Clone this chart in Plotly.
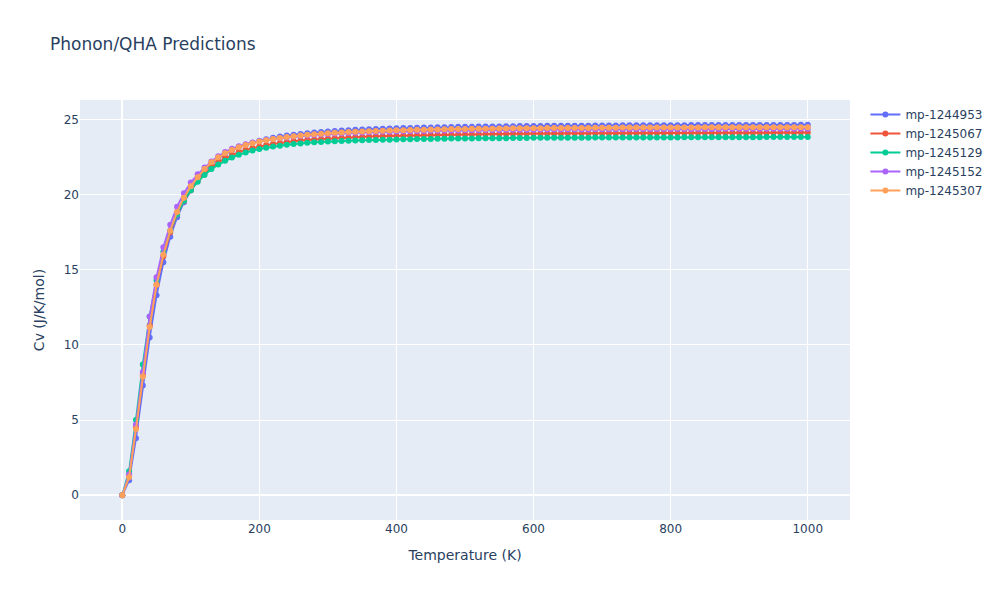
import plotly.graph_objects as go

temperature = list(range(0, 1001, 10))

names = ["mp-1244953", "mp-1245067", "mp-1245129", "mp-1245152", "mp-1245307"]

cv_1244953 = [
    0, 1.0, 3.8, 7.3, 10.5, 13.3, 15.5, 17.2, 18.5, 19.5,
    20.3, 21.02, 21.60, 22.06, 22.42, 22.70, 22.95, 23.15, 23.32, 23.46,
    23.59, 23.69, 23.78, 23.86, 23.93, 23.99, 24.04, 24.09, 24.13, 24.17,
    24.20, 24.23, 24.26, 24.29, 24.31, 24.33, 24.35, 24.37, 24.39, 24.40,
    24.42, 24.43, 24.44, 24.45, 24.46, 24.47, 24.48, 24.49, 24.50, 24.51,
    24.51, 24.52, 24.53, 24.53, 24.54, 24.54, 24.55, 24.55, 24.56, 24.56,
    24.57, 24.57, 24.58, 24.58, 24.58, 24.59, 24.59, 24.59, 24.59, 24.60,
    24.60, 24.60, 24.60, 24.61, 24.61, 24.61, 24.61, 24.62, 24.62, 24.62,
    24.62, 24.62, 24.62, 24.63, 24.63, 24.63, 24.63, 24.63, 24.63, 24.63,
    24.64, 24.64, 24.64, 24.64, 24.64, 24.64, 24.64, 24.64, 24.64, 24.65,
    24.65,
]

cv_1245067 = [
    0, 1.3, 4.5, 8.0, 11.3, 14.0, 15.9, 17.5, 18.7, 19.6,
    20.3, 20.9, 21.4, 21.8, 22.15, 22.42, 22.64, 22.83, 22.98, 23.1,
    23.2, 23.29, 23.37, 23.44, 23.5, 23.55, 23.6, 23.64, 23.67, 23.70,
    23.73, 23.75, 23.78, 23.80, 23.82, 23.84, 23.86, 23.88, 23.89, 23.91,
    23.92, 23.93, 23.94, 23.95, 23.96, 23.97, 23.98, 23.99, 24.00, 24.00,
    24.01, 24.02, 24.02, 24.03, 24.03, 24.04, 24.04, 24.05, 24.05, 24.06,
    24.06, 24.06, 24.07, 24.07, 24.07, 24.08, 24.08, 24.08, 24.08, 24.09,
    24.09, 24.09, 24.09, 24.10, 24.10, 24.10, 24.10, 24.10, 24.10, 24.11,
    24.11, 24.11, 24.11, 24.11, 24.11, 24.12, 24.12, 24.12, 24.12, 24.12,
    24.12, 24.12, 24.12, 24.12, 24.12, 24.13, 24.13, 24.13, 24.13, 24.13,
    24.13,
]

cv_1245129 = [
    0, 1.6, 5.0, 8.7, 11.9, 14.3, 16.2, 17.6, 18.7, 19.6,
    20.3, 20.85, 21.3, 21.7, 22.0, 22.25, 22.47, 22.65, 22.8, 22.93,
    23.03, 23.12, 23.2, 23.26, 23.32, 23.37, 23.41, 23.45, 23.48, 23.51,
    23.54, 23.55, 23.57, 23.58, 23.60, 23.62, 23.63, 23.64, 23.65, 23.66,
    23.67, 23.68, 23.69, 23.70, 23.70, 23.71, 23.72, 23.72, 23.73, 23.74,
    23.74, 23.74, 23.75, 23.75, 23.76, 23.76, 23.76, 23.77, 23.77, 23.77,
    23.78, 23.78, 23.78, 23.78, 23.79, 23.79, 23.79, 23.79, 23.79, 23.80,
    23.80, 23.80, 23.80, 23.80, 23.81, 23.81, 23.81, 23.81, 23.81, 23.81,
    23.81, 23.81, 23.82, 23.82, 23.82, 23.82, 23.82, 23.82, 23.82, 23.82,
    23.82, 23.82, 23.82, 23.82, 23.83, 23.83, 23.83, 23.83, 23.83, 23.83,
    23.83,
]

cv_1245152 = [
    0, 1.4, 4.7, 8.2, 11.9, 14.5, 16.5, 18.0, 19.2, 20.1,
    20.8, 21.35, 21.8, 22.2, 22.55, 22.83, 23.05, 23.22, 23.36, 23.47,
    23.56, 23.63, 23.70, 23.76, 23.81, 23.86, 23.90, 23.94, 23.97, 24.00,
    24.03, 24.06, 24.08, 24.10, 24.12, 24.13, 24.15, 24.16, 24.18, 24.19,
    24.20, 24.21, 24.22, 24.23, 24.24, 24.25, 24.25, 24.26, 24.27, 24.27,
    24.28, 24.29, 24.29, 24.30, 24.30, 24.30, 24.31, 24.31, 24.32, 24.32,
    24.32, 24.33, 24.33, 24.33, 24.33, 24.34, 24.34, 24.34, 24.34, 24.35,
    24.35, 24.35, 24.35, 24.35, 24.36, 24.36, 24.36, 24.36, 24.36, 24.36,
    24.37, 24.37, 24.37, 24.37, 24.37, 24.37, 24.37, 24.37, 24.38, 24.38,
    24.38, 24.38, 24.38, 24.38, 24.38, 24.38, 24.38, 24.38, 24.38, 24.38,
    24.39,
]

cv_1245307 = [
    0, 1.2, 4.4, 7.9, 11.2, 14.0, 16.0, 17.6, 18.85, 19.8,
    20.55, 21.15, 21.7, 22.15, 22.48, 22.75, 22.97, 23.15, 23.3, 23.42,
    23.53, 23.62, 23.70, 23.77, 23.84, 23.89, 23.94, 23.98, 24.02, 24.05,
    24.09, 24.11, 24.14, 24.16, 24.18, 24.20, 24.22, 24.24, 24.25, 24.27,
    24.28, 24.29, 24.30, 24.31, 24.32, 24.33, 24.34, 24.35, 24.36, 24.36,
    24.37, 24.38, 24.38, 24.39, 24.39, 24.40, 24.40, 24.41, 24.41, 24.42,
    24.42, 24.42, 24.43, 24.43, 24.43, 24.44, 24.44, 24.44, 24.44, 24.45,
    24.45, 24.45, 24.45, 24.46, 24.46, 24.46, 24.46, 24.46, 24.46, 24.47,
    24.47, 24.47, 24.47, 24.47, 24.47, 24.48, 24.48, 24.48, 24.48, 24.48,
    24.48, 24.48, 24.48, 24.49, 24.49, 24.49, 24.49, 24.49, 24.49, 24.49,
    24.49,
]

series = [cv_1244953, cv_1245067, cv_1245129, cv_1245152, cv_1245307]

fig = go.Figure()
for name, values in zip(names, series):
    fig.add_trace(go.Scatter(x=temperature, y=values, mode="lines+markers", name=name))

fig.update_layout(
    title=dict(text="Phonon/QHA Predictions"),
    xaxis_title="Temperature (K)",
    yaxis_title="Cv (J/K/mol)",
    font=dict(family="DejaVu Sans"),
    width=1000,
    height=600,
)

fig.write_html(
    "out.html",
    config={"displayModeBar": False},
    post_script="document.body.style.margin='0';",
)
